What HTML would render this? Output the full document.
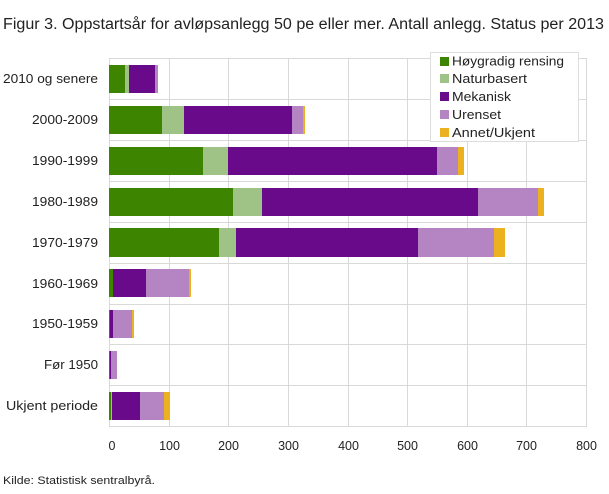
<!DOCTYPE html>
<html><head><meta charset="utf-8"><style>
body{margin:0;background:#fff;width:609px;height:489px;overflow:hidden;font-family:"Liberation Sans","DejaVu Sans",sans-serif}
</style></head><body>
<svg width="609" height="489" xmlns="http://www.w3.org/2000/svg" font-family="Liberation Sans, DejaVu Sans, sans-serif">
<text x="3" y="29" font-size="15.5" fill="#222" textLength="601" lengthAdjust="spacingAndGlyphs">Figur 3. Oppstartsår for avløpsanlegg 50 pe eller mer. Antall anlegg. Status per 2013</text>
<g stroke="#d9d9d9" stroke-width="1">
<line x1="109.5" y1="58" x2="109.5" y2="426"/><line x1="169.5" y1="58" x2="169.5" y2="426"/><line x1="228.5" y1="58" x2="228.5" y2="426"/><line x1="288.5" y1="58" x2="288.5" y2="426"/><line x1="348.5" y1="58" x2="348.5" y2="426"/><line x1="407.5" y1="58" x2="407.5" y2="426"/><line x1="467.5" y1="58" x2="467.5" y2="426"/><line x1="526.5" y1="58" x2="526.5" y2="426"/><line x1="586.5" y1="58" x2="586.5" y2="426"/>
<line x1="109" y1="58.5" x2="587" y2="58.5"/><line x1="109" y1="99.5" x2="587" y2="99.5"/><line x1="109" y1="140.5" x2="587" y2="140.5"/><line x1="109" y1="181.5" x2="587" y2="181.5"/><line x1="109" y1="222.5" x2="587" y2="222.5"/><line x1="109" y1="263.5" x2="587" y2="263.5"/><line x1="109" y1="304.5" x2="587" y2="304.5"/><line x1="109" y1="344.5" x2="587" y2="344.5"/><line x1="109" y1="385.5" x2="587" y2="385.5"/><line x1="109" y1="426.5" x2="587" y2="426.5"/>
</g>
<g>
<rect x="109" y="65" width="16" height="28" fill="#3d8400"/><rect x="125" y="65" width="4" height="28" fill="#9fc386"/><rect x="129" y="65" width="26" height="28" fill="#690a8a"/><rect x="155" y="65" width="3" height="28" fill="#b484c3"/>
<rect x="109" y="106" width="53" height="28" fill="#3d8400"/><rect x="162" y="106" width="22" height="28" fill="#9fc386"/><rect x="184" y="106" width="108" height="28" fill="#690a8a"/><rect x="292" y="106" width="11" height="28" fill="#b484c3"/><rect x="303" y="106" width="2" height="28" fill="#ecb11f"/>
<rect x="109" y="147" width="94" height="28" fill="#3d8400"/><rect x="203" y="147" width="25" height="28" fill="#9fc386"/><rect x="228" y="147" width="209" height="28" fill="#690a8a"/><rect x="437" y="147" width="21" height="28" fill="#b484c3"/><rect x="458" y="147" width="6" height="28" fill="#ecb11f"/>
<rect x="109" y="188" width="124" height="28" fill="#3d8400"/><rect x="233" y="188" width="29" height="28" fill="#9fc386"/><rect x="262" y="188" width="216" height="28" fill="#690a8a"/><rect x="478" y="188" width="60" height="28" fill="#b484c3"/><rect x="538" y="188" width="6" height="28" fill="#ecb11f"/>
<rect x="109" y="228" width="110" height="29" fill="#3d8400"/><rect x="219" y="228" width="17" height="29" fill="#9fc386"/><rect x="236" y="228" width="182" height="29" fill="#690a8a"/><rect x="418" y="228" width="76" height="29" fill="#b484c3"/><rect x="494" y="228" width="11" height="29" fill="#ecb11f"/>
<rect x="109" y="269" width="4" height="28" fill="#3d8400"/><rect x="113" y="269" width="33" height="28" fill="#690a8a"/><rect x="146" y="269" width="43" height="28" fill="#b484c3"/><rect x="189" y="269" width="2" height="28" fill="#ecb11f"/>
<rect x="109" y="310" width="1" height="28" fill="#3d8400"/><rect x="110" y="310" width="3" height="28" fill="#690a8a"/><rect x="113" y="310" width="19" height="28" fill="#b484c3"/><rect x="132" y="310" width="2" height="28" fill="#ecb11f"/>
<rect x="109" y="351" width="1" height="28" fill="#3d8400"/><rect x="110" y="351" width="1" height="28" fill="#690a8a"/><rect x="111" y="351" width="6" height="28" fill="#b484c3"/>
<rect x="109" y="392" width="2" height="28" fill="#3d8400"/><rect x="111" y="392" width="1" height="28" fill="#9fc386"/><rect x="112" y="392" width="28" height="28" fill="#690a8a"/><rect x="140" y="392" width="24" height="28" fill="#b484c3"/><rect x="164" y="392" width="6" height="28" fill="#ecb11f"/>
</g>
<g font-size="12.5" fill="#222" text-anchor="end">
<text x="98" y="83" textLength="95" lengthAdjust="spacingAndGlyphs">2010 og senere</text><text x="98" y="124" textLength="66" lengthAdjust="spacingAndGlyphs">2000-2009</text><text x="98" y="165" textLength="66" lengthAdjust="spacingAndGlyphs">1990-1999</text><text x="98" y="206" textLength="66" lengthAdjust="spacingAndGlyphs">1980-1989</text><text x="98" y="247" textLength="66" lengthAdjust="spacingAndGlyphs">1970-1979</text><text x="98" y="288" textLength="66" lengthAdjust="spacingAndGlyphs">1960-1969</text><text x="98" y="328" textLength="66" lengthAdjust="spacingAndGlyphs">1950-1959</text><text x="98" y="369" textLength="54" lengthAdjust="spacingAndGlyphs">Før 1950</text><text x="98" y="410" textLength="92" lengthAdjust="spacingAndGlyphs">Ukjent periode</text>
</g>
<g font-size="12.5" fill="#222" text-anchor="middle">
<text x="112" y="450">0</text><text x="169.5" y="450">100</text><text x="228.5" y="450">200</text><text x="288.5" y="450">300</text><text x="348.5" y="450">400</text><text x="407.5" y="450">500</text><text x="467.5" y="450">600</text><text x="526.5" y="450">700</text><text x="586.5" y="450">800</text>
</g>
<rect x="430.5" y="52.5" width="148" height="89" fill="#fff" stroke="#ddd"/>
<g font-size="12.5" fill="#222">
<rect x="440" y="57" width="9" height="9" fill="#3d8400"/><text x="452" y="65.5" textLength="112" lengthAdjust="spacingAndGlyphs">Høygradig rensing</text>
<rect x="440" y="74" width="9" height="9" fill="#9fc386"/><text x="452" y="83" textLength="75" lengthAdjust="spacingAndGlyphs">Naturbasert</text>
<rect x="440" y="92" width="9" height="9" fill="#690a8a"/><text x="452" y="101" textLength="59" lengthAdjust="spacingAndGlyphs">Mekanisk</text>
<rect x="440" y="110" width="9" height="9" fill="#b484c3"/><text x="452" y="119" textLength="49" lengthAdjust="spacingAndGlyphs">Urenset</text>
<rect x="440" y="128" width="9" height="9" fill="#ecb11f"/><text x="452" y="137" textLength="83" lengthAdjust="spacingAndGlyphs">Annet/Ukjent</text>
</g>
<text x="3" y="484" font-size="11" fill="#222" textLength="152" lengthAdjust="spacingAndGlyphs">Kilde: Statistisk sentralbyrå.</text>
</svg>
</body></html>
